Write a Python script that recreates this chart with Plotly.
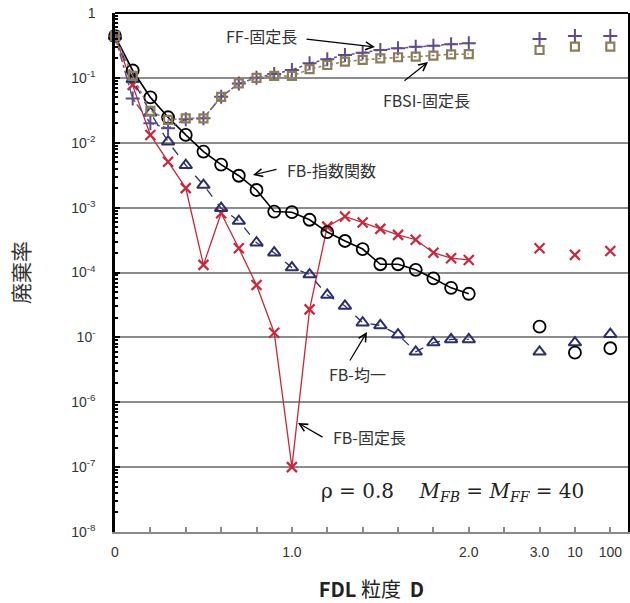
import plotly.graph_objects as go

# ---- data ----
D_main = [0.0, 0.1, 0.2, 0.3, 0.4, 0.5, 0.6, 0.7, 0.8, 0.9, 1.0,
          1.1, 1.2, 1.3, 1.4, 1.5, 1.6, 1.7, 1.8, 1.9, 2.0]
D_extra = ["3.0", "10", "100"]          # large-granularity points on compressed axis

fb_exp = [0.44, 0.13, 0.050, 0.0247, 0.0132, 0.0073, 0.0046, 0.0031, 0.00187, 0.00087, 0.00085,
          0.00065, 0.00042, 0.000306, 0.00023, 0.000134, 0.000134, 0.00011, 8.1e-5, 5.8e-5, 4.7e-5]
fb_exp_extra = [1.46e-5, 5.8e-6, 6.8e-6]

fb_uni = [0.44, 0.095, 0.029, 0.0104, 0.0045, 0.00223, 0.00098, 0.00062, 0.000288, 0.000202, 0.000119,
          9.3e-5, 4.5e-5, 3.05e-5, 1.68e-5, 1.53e-5, 1.1e-5, 6.0e-6, 8.3e-6, 9.3e-6, 9.3e-6]
fb_uni_extra = [6.0e-6, 8.3e-6, 1.12e-5]

fb_fix = [0.44, 0.078, 0.0132, 0.0051, 0.0020, 0.000131, 0.00082, 0.000236, 6.4e-5, 1.18e-5, 1.0e-7,
          2.7e-5, 0.00051, 0.00073, 0.00059, 0.00047, 0.00038, 0.00032, 0.000202, 0.000166, 0.000156]
fb_fix_extra = [0.000236, 0.000187, 0.000214]

ff_fix = [0.44, 0.048, 0.020, 0.0167, 0.023, 0.0238, 0.051, 0.082, 0.10, 0.115, 0.132,
          0.168, 0.194, 0.225, 0.245, 0.269, 0.286, 0.303, 0.313, 0.330, 0.341]
ff_fix_extra = [0.397, 0.442, 0.442]

fbsi_fix = [0.44, 0.107, 0.031, 0.0225, 0.0238, 0.0238, 0.051, 0.082, 0.10, 0.107, 0.107,
            0.136, 0.158, 0.178, 0.189, 0.200, 0.208, 0.212, 0.220, 0.231, 0.233]
fbsi_fix_extra = [0.269, 0.303, 0.303]

x_tick_vals = [0.0, 0.2, 0.4, 0.6, 0.8, 1.0, 1.2, 1.4, 1.6, 1.8, 2.0, 2.2, 2.4, 2.6, 2.8]
x_tick_text = ["0", "", "", "", "", "1.0", "", "", "", "", "2.0", "", "3.0", "10", "100"]

y_tick_vals = [1e-8, 1e-7, 1e-6, 1e-5, 1e-4, 1e-3, 1e-2, 1e-1, 1]
y_tick_text = ["10<sup>-8</sup>", "10<sup>-7</sup>", "10<sup>-6</sup>", "10<sup>-</sup>",
               "10<sup>-4</sup>", "10<sup>-3</sup>", "10<sup>-2</sup>", "10<sup>-1</sup>", "1"]

# compressed axis: extra points placed after the 2.2 tick, one 0.2 step apart
x_extra_pos = [x_tick_vals[x_tick_text.index(lbl)] for lbl in D_extra]

fig = go.Figure()

def add_series(y_main, y_extra, color, symbol, size, dash, lw, mlw):
    fig.add_trace(go.Scatter(
        x=D_main, y=y_main, mode="lines+markers",
        line=dict(color=color, width=lw, dash=dash),
        marker=dict(symbol=symbol, size=size, color=color,
                    line=dict(color=color, width=mlw)),
        showlegend=False, cliponaxis=False))
    fig.add_trace(go.Scatter(
        x=x_extra_pos, y=y_extra, mode="markers",
        marker=dict(symbol=symbol, size=size, color=color,
                    line=dict(color=color, width=mlw)),
        showlegend=False, cliponaxis=False))

RED = "#c8283a"
NAVY = "#2b2f6b"
PURPLE = "#5e4b8c"
OLIVE = "#8c7d5a"

add_series(fb_fix, fb_fix_extra, RED, "x-thin", 10, "solid", 1.3, 2.2)
add_series(fb_uni, fb_uni_extra, NAVY, "triangle-up-open", 11, "dash", 1.3, 2.0)
add_series(fb_exp, fb_exp_extra, "black", "circle-open", 12, "solid", 1.6, 1.8)
add_series(ff_fix, ff_fix_extra, PURPLE, "cross-thin", 10, "dashdot", 1.5, 2.0)
add_series(fbsi_fix, fbsi_fix_extra, OLIVE, "square-open", 8, "dot", 1.5, 2.2)

# plot-area geometry (pixels) for annotations
L, R, T, B = 115, 628, 13, 532
def px(xp):
    return (xp - L) / (R - L)
def py(yp):
    return (B - yp) / (B - T)

JP = "Noto Sans CJK JP"
lab_font = dict(family=JP, size=16, color="#333333")

labels = [
    ("FF-固定長", 261, 36),
    ("FBSI-固定長", 426, 100),
    ("FB-指数関数", 331, 170),
    ("FB-均一", 357, 374),
    ("FB-固定長", 369, 437),
]
for txt, x0, y0 in labels:
    fig.add_annotation(text=txt, x=px(x0), y=py(y0), xref="paper", yref="paper",
                       showarrow=False, font=lab_font, xanchor="center", yanchor="middle")

arrows = [  # tail (x,y) -> tip (x,y) in pixels
    (305, 39, 375, 47),
    (403, 82, 428, 62),
    (278, 169, 253, 175),
    (349, 362, 367, 332),
    (324, 438, 298, 423),
]
for x0, y0, x1, y1 in arrows:
    fig.add_annotation(text="", x=px(x1), y=py(y1), xref="paper", yref="paper",
                       ax=x0 - x1, ay=y0 - y1, showarrow=True,
                       arrowhead=5, arrowsize=1.3, arrowwidth=1.2, arrowcolor="black")

fig.add_annotation(
    text="ρ&nbsp;=&nbsp;0.8&nbsp;&nbsp;&nbsp;&nbsp;<i>M</i><sub><i>FB</i></sub>&nbsp;=&nbsp;"
         "<i>M</i><sub><i>FF</i></sub>&nbsp;=&nbsp;40",
    x=px(452), y=py(492), xref="paper", yref="paper", showarrow=False,
    xanchor="center", yanchor="middle",
    font=dict(family="DejaVu Serif", size=20, color="#222222"))

# top black border
fig.add_shape(type="line", xref="paper", yref="paper", x0=0, x1=1, y0=1, y1=1,
              line=dict(color="black", width=2))

tick_font = dict(family="Liberation Sans", size=14, color="#333333")

fig.update_layout(
    width=630, height=603,
    margin=dict(l=115, r=2, t=13, b=71),
    paper_bgcolor="white", plot_bgcolor="white",
    xaxis=dict(range=[0, 2.9], tickvals=x_tick_vals, ticktext=x_tick_text,
               showgrid=False, zeroline=False, automargin=False,
               showline=True, linecolor="#8a8a8a", linewidth=2,
               ticks="inside", ticklen=5, tickcolor="#8a8a8a", tickwidth=1.5,
               tickfont=tick_font, ticklabelstandoff=6,
               title=dict(text="<b>FDL</b> 粒度  <b>D</b>",
                          font=dict(family=JP, size=20, color="#222222"),
                          standoff=24)),
    yaxis=dict(type="log", range=[-8, 0], tickvals=y_tick_vals, ticktext=y_tick_text,
               showgrid=True, gridcolor="#8c8c8c", gridwidth=2,
               zeroline=False, showline=True, linecolor="black", linewidth=2.5,
               mirror=True, automargin=False,
               ticks="inside", ticklen=5, tickcolor="black", tickwidth=2,
               minor=dict(ticks="inside", ticklen=3, tickcolor="black", tickwidth=1.5,
                          dtick="D1", showgrid=False),
               tickfont=tick_font, ticklabelstandoff=14,
               title=dict(text="廃棄率", font=dict(family=JP, size=21, color="#333333"),
                          standoff=36)),
)

fig.write_html("out.html")
